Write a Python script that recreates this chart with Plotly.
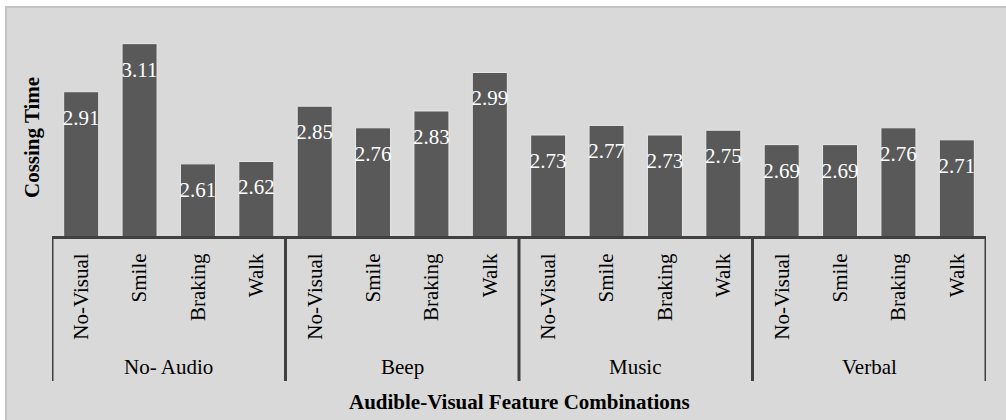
import plotly.graph_objects as go

# Crossing time per audible/visual feature combination
groups = ["No- Audio", "Beep", "Music", "Verbal"]
visuals = ["No-Visual", "Smile", "Braking", "Walk"]
no_audio = [2.91, 3.11, 2.61, 2.62]
beep = [2.85, 2.76, 2.83, 2.99]
music = [2.73, 2.77, 2.73, 2.75]
verbal = [2.69, 2.69, 2.76, 2.71]

values = no_audio + beep + music + verbal
tick_text = visuals * len(groups)
xs = list(range(len(values)))

W, H = 1006, 420
L, R, T, B = 52, 20, 22, 184
PW, PH = W - L - R, H - T - B
BASE = H - B  # pixel row of the category axis line


def py(p):
    """pixel row -> paper y"""
    return (BASE - p) / PH


def px(p):
    """pixel column -> paper x"""
    return (p - L) / PW


FONT = "Liberation Serif, Times New Roman, serif"
FS = 21
BG = "#D9D9D9"
DARK = "#404040"

fig = go.Figure()

fig.add_trace(go.Bar(
    x=xs, y=values,
    marker=dict(color="#595959", line=dict(color="#E8E8E8", width=1)),
    width=0.6,
    hoverinfo="skip",
))

# value labels sitting just inside the top of each bar
fig.add_trace(go.Scatter(
    x=xs, y=values,
    mode="markers+text",
    marker=dict(size=26, opacity=0),
    text=[f"{v:.2f}" for v in values],
    textposition="bottom center",
    textfont=dict(family=FONT, size=FS, color="white"),
    hoverinfo="skip",
    cliponaxis=False,
))

shapes = [
    # chart frame
    dict(type="rect", xref="paper", yref="paper",
         x0=px(6), x1=px(1012), y0=py(7), y1=py(430),
         fillcolor=BG, line=dict(color="#C4C4C4", width=2), layer="below"),
]
# group dividers
for b in [-0.5, 3.5, 7.5, 11.5, 15.5]:
    shapes.append(dict(type="line", xref="x", yref="paper",
                       x0=b, x1=b, y0=py(BASE), y1=py(381),
                       line=dict(color=DARK, width=3)))

annotations = []
for i, g in enumerate(groups):
    annotations.append(dict(x=i * 4 + 1.5, y=py(367), xref="x", yref="paper",
                            text=g, showarrow=False, yanchor="middle",
                            font=dict(family=FONT, size=FS, color="black")))
annotations.append(dict(x=0.5, y=py(402), xref="paper", yref="paper",
                        text="<b>Audible-Visual Feature Combinations</b>",
                        showarrow=False, yanchor="middle",
                        font=dict(family=FONT, size=FS, color="black")))
annotations.append(dict(x=px(32), y=py(138), xref="paper", yref="paper",
                        text="<b>Cossing Time</b>", textangle=-90,
                        showarrow=False, xanchor="center", yanchor="middle",
                        font=dict(family=FONT, size=FS, color="black")))

fig.update_layout(
    width=W, height=H,
    margin=dict(l=L, r=R, t=T, b=B, pad=0),
    paper_bgcolor="white",
    plot_bgcolor="rgba(0,0,0,0)",
    showlegend=False,
    shapes=shapes,
    annotations=annotations,
    xaxis=dict(
        range=[-0.5, 15.5],
        tickmode="array", tickvals=xs, ticktext=tick_text,
        tickangle=-90,
        ticks="outside", ticklen=6, tickcolor="rgba(0,0,0,0)",
        tickfont=dict(family=FONT, size=FS, color="black"),
        showline=True, linecolor=DARK, linewidth=3,
        showgrid=False, zeroline=False, fixedrange=True,
    ),
    yaxis=dict(
        range=[2.31, 3.2],
        showticklabels=False, ticks="", showgrid=False,
        zeroline=False, showline=False, fixedrange=True,
    ),
)

fig.write_html("out.html")
